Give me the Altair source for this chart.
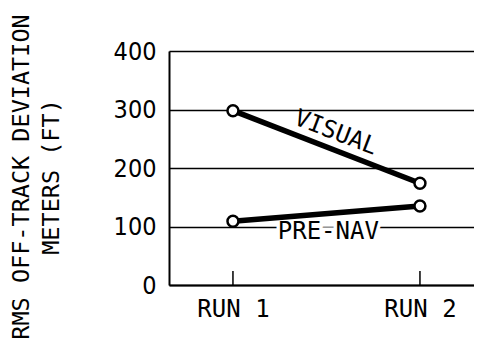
import altair as alt
import pandas as pd

# ---- data ----
runs = [1, 2]
visual = [298, 174]
pre_nav = [109, 135]
series_names = ["VISUAL", "PRE-NAV"]
y_ticks = [0, 100, 200, 300, 400]
label_x = [1.55, 1.51]
label_y = [260, 91]
label_angle = [21, 0]
title_lines = ["RMS OFF-TRACK DEVIATION", "METERS (FT)"]
inner_tick_len = [24, 24]

FONT = "DejaVu Sans Mono"
NUM_FONT = "DejaVu Sans Condensed"

rows = []
for s, vals in zip(series_names, [visual, pre_nav]):
    for r, v in zip(runs, vals):
        rows.append({"series": s, "run": r, "value": v})
df = pd.DataFrame(rows)

labels = pd.DataFrame({"series": series_names, "x": label_x, "y": label_y, "angle": label_angle})
ticks_df = pd.DataFrame({"run": runs, "y0": [0, 0], "y1": inner_tick_len})

W, H = 305, 234
xscale = alt.Scale(domain=[0.658, 2.289], nice=False, zero=False)
yscale = alt.Scale(domain=[0, 400], nice=False)

x_axis = alt.Axis(values=runs, labelExpr="'RUN ' + datum.value", ticks=False,
                  domainColor="black", domainWidth=2, grid=False, labelFont=FONT,
                  labelFontSize=24, labelColor="black", labelPadding=12,
                  labelFlush=False, title=None)
y_axis = alt.Axis(values=y_ticks, ticks=False, grid=True, gridColor="black",
                  gridWidth=1.5, gridOpacity=1, domainColor="black", domainWidth=2,
                  labelFont=NUM_FONT, labelFontSize=25, labelColor="black",
                  labelPadding=13, labelFlush=False, title=None)

lines = alt.Chart(df).mark_line(color="black", strokeWidth=5.5).encode(
    x=alt.X("run:Q", scale=xscale, axis=x_axis),
    y=alt.Y("value:Q", scale=yscale, axis=y_axis),
    detail="series:N",
)

points = alt.Chart(df).mark_point(shape="circle", filled=True, fill="white", stroke="black",
                                  strokeWidth=2.5, size=120, opacity=1).encode(
    x=alt.X("run:Q", scale=xscale),
    y=alt.Y("value:Q", scale=yscale),
)

inner_ticks = alt.Chart(ticks_df).mark_rule(color="black", strokeWidth=1.5).encode(
    x=alt.X("run:Q", scale=xscale),
    y=alt.Y("y0:Q", scale=yscale),
    y2="y1:Q",
)

halo = alt.Chart(labels).transform_filter(alt.datum.series == "PRE-NAV").mark_text(
    font=FONT, fontSize=24, color="white", stroke="white", strokeWidth=7,
    align="center", baseline="middle").encode(
    x=alt.X("x:Q", scale=xscale),
    y=alt.Y("y:Q", scale=yscale),
    text="series:N",
    angle=alt.Angle("angle:Q", scale=None),
)

label_text = alt.Chart(labels).mark_text(
    font=FONT, fontSize=24, color="black", align="center", baseline="middle").encode(
    x=alt.X("x:Q", scale=xscale),
    y=alt.Y("y:Q", scale=yscale),
    text="series:N",
    angle=alt.Angle("angle:Q", scale=None),
)

title1 = alt.Chart(pd.DataFrame({"t": [title_lines[0]]})).mark_text(
    font=FONT, fontSize=23.5, color="black", angle=270, align="center", baseline="middle").encode(
    x=alt.value(-147), y=alt.value(126), text="t:N")
title2 = alt.Chart(pd.DataFrame({"t": [title_lines[1]]})).mark_text(
    font=FONT, fontSize=23.5, color="black", angle=270, align="center", baseline="middle").encode(
    x=alt.value(-117), y=alt.value(126), text="t:N")

chart = alt.layer(halo, inner_ticks, lines, points, label_text, title1, title2).properties(
    width=W, height=H,
    padding={"left": 161, "top": 43, "right": 0, "bottom": 56},
    autosize=alt.AutoSizeParams(type="none"),
).configure_view(stroke=None).configure(background="white")

chart.save("out.html", embed_options={"renderer": "svg", "actions": False})
